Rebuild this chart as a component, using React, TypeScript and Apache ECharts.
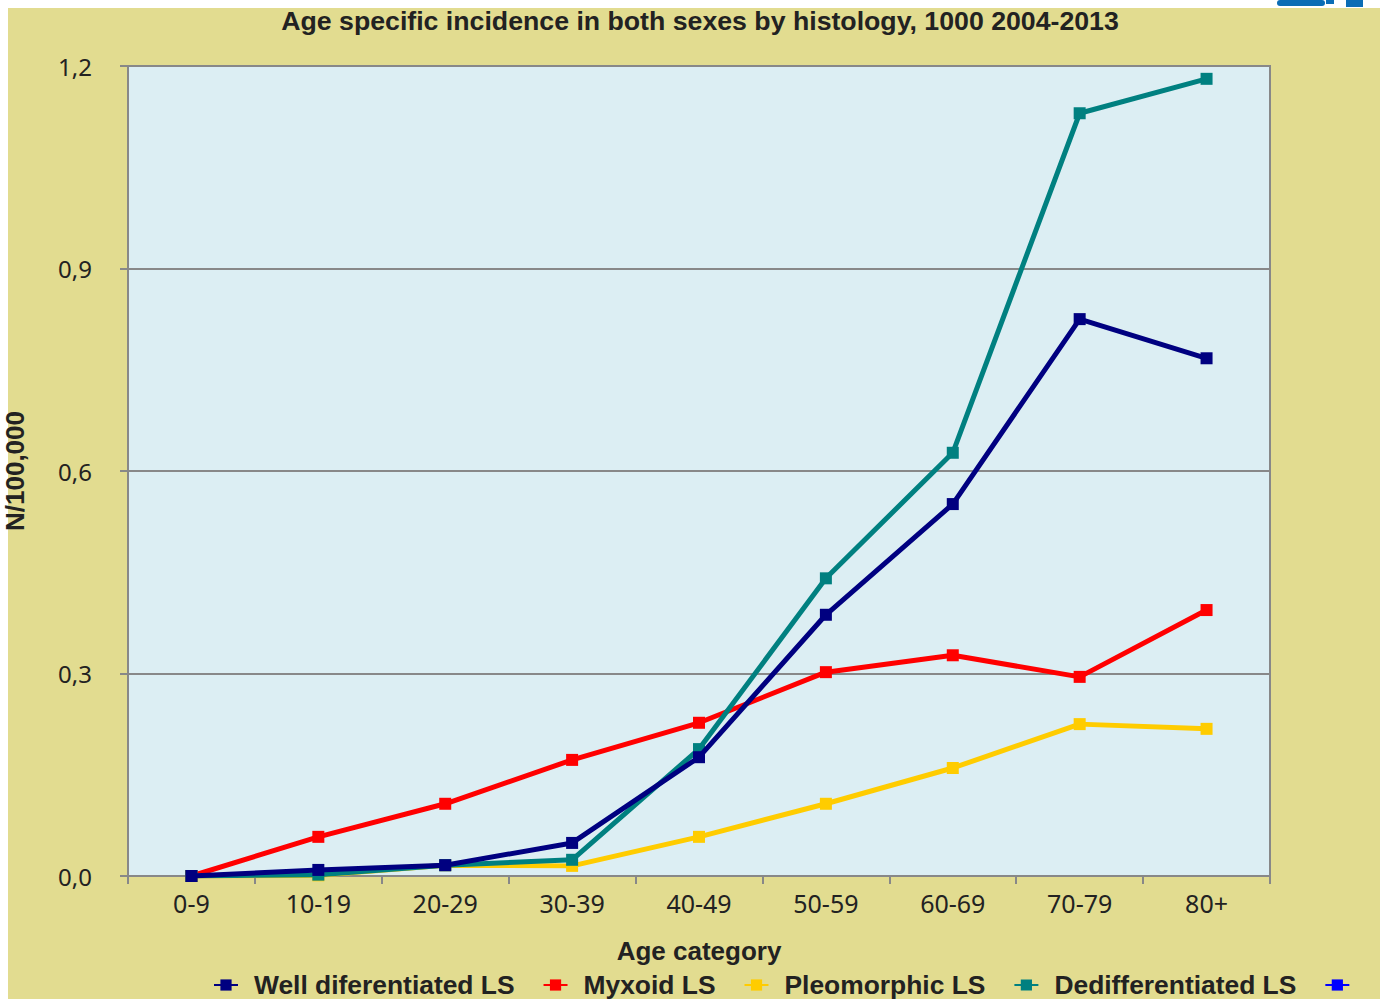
import React, { useEffect, useRef } from "react";
import * as echarts from "echarts";

const categories = ["0-9", "10-19", "20-29", "30-39", "40-49", "50-59", "60-69", "70-79", "80+"];
const wellDiff = [0, 0.009, 0.016, 0.049, 0.176, 0.387, 0.551, 0.825, 0.767];
const myxoid = [0, 0.058, 0.107, 0.172, 0.227, 0.302, 0.327, 0.295, 0.394];
const pleomorphic = [0, 0.001, 0.016, 0.015, 0.058, 0.107, 0.16, 0.225, 0.218];
const dediff = [0, 0.002, 0.016, 0.024, 0.188, 0.441, 0.627, 1.13, 1.181];
const seriesNames = ["Well diferentiated LS", "Myxoid LS", "Pleomorphic LS", "Dedifferentiated LS", " "];
const colors = ["#000080", "#FF0000", "#FFCC00", "#008080", "#0000FF"];

export default function App() {
  const ref = useRef<HTMLDivElement>(null);
  useEffect(() => {
    if (!ref.current) return;
    const chart = echarts.init(ref.current, null, { renderer: "svg" });
    const dataSets = [wellDiff, myxoid, pleomorphic, dediff, []];
    const zs = [6, 3, 4, 5, 2];
    chart.setOption({
      animation: false,
      backgroundColor: "#ffffff",
      graphic: [
        { type: "rect", shape: { x: 8, y: 8, width: 1372, height: 991 }, style: { fill: "#E2DC90" }, z: -10 },
        { type: "rect", shape: { x: 1277, y: 0, width: 48, height: 6, r: 3 }, style: { fill: "#0B6DB5" } },
        { type: "rect", shape: { x: 1326, y: 0, width: 8, height: 4 }, style: { fill: "#0B6DB5" } },
        { type: "rect", shape: { x: 1346, y: 0, width: 17, height: 7 }, style: { fill: "#0B6DB5" } },
      ],
      title: {
        text: "Age specific incidence in both sexes by histology, 1000 2004-2013",
        left: 695,
        textAlign: "center",
        top: 2,
        textStyle: { fontFamily: "Liberation Sans", fontWeight: "bold", fontSize: 26.7, color: "#222222" },
      },
      legend: {
        left: 213,
        top: 972,
        width: 1165,
        padding: 0,
        itemGap: 28,
        itemWidth: 24,
        itemHeight: 14,
        data: seriesNames,
        textStyle: {
          fontFamily: "Liberation Sans",
          fontWeight: "bold",
          fontSize: 26.4,
          color: "#222222",
          padding: [0, 0, 0, 11],
        },
      },
      grid: {
        left: 128,
        top: 66,
        width: 1142,
        height: 810,
        outerBoundsMode: "none",
        containLabel: false,
        show: true,
        backgroundColor: "#DCEEF3",
        borderColor: "#888888",
        borderWidth: 2,
      },
      xAxis: {
        type: "category",
        data: categories,
        boundaryGap: true,
        name: "Age category",
        nameLocation: "middle",
        nameGap: 62,
        nameTextStyle: { fontFamily: "Liberation Sans", fontWeight: "bold", fontSize: 26, color: "#222222" },
        axisLine: { lineStyle: { color: "#888888", width: 2 } },
        axisTick: { show: true, length: 8, lineStyle: { color: "#888888", width: 2 } },
        axisLabel: { fontFamily: "Noto Sans", fontSize: 25, color: "#222222", margin: 14 },
        splitLine: { show: false },
      },
      yAxis: {
        type: "value",
        min: 0,
        max: 1.2,
        interval: 0.3,
        name: "N/100,000",
        nameLocation: "middle",
        nameGap: 100,
        nameRotate: 90,
        nameTextStyle: { fontFamily: "Liberation Sans", fontWeight: "bold", fontSize: 26, color: "#222222" },
        axisLine: { show: true, lineStyle: { color: "#888888", width: 2 } },
        axisTick: { show: true, length: 8, lineStyle: { color: "#888888", width: 2 } },
        axisLabel: {
          fontFamily: "Noto Sans",
          fontSize: 24,
          color: "#222222",
          margin: 36,
          formatter: (v: number) => v.toFixed(1).replace(".", ","),
        },
        splitLine: { show: true, lineStyle: { color: "#888888", width: 2 } },
      },
      series: seriesNames.map((name, i) => ({
        name,
        type: "line",
        data: dataSets[i],
        z: zs[i],
        symbol: "rect",
        symbolSize: 12,
        color: colors[i],
        lineStyle: { width: 5, color: colors[i] },
        itemStyle: { color: colors[i] },
      })),
    });
    return () => chart.dispose();
  }, []);
  return <div ref={ref} style={{ position: "absolute", left: 0, top: 0, width: 1380, height: 999 }} />;
}
